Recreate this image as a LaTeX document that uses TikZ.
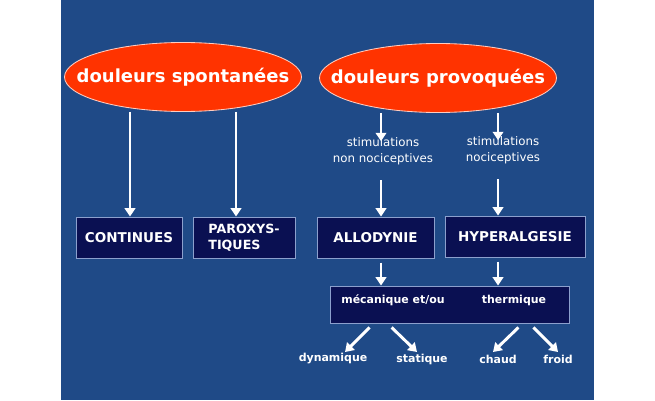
\documentclass[tikz,border=0pt]{standalone}
\usepackage{fontspec}
\setmainfont{DejaVu Sans}
\usepackage{tikz}
\usetikzlibrary{shapes.geometric,arrows.meta,calc}
\definecolor{slide}{RGB}{31,74,135}
\definecolor{blob}{RGB}{255,51,0}
\definecolor{navy}{RGB}{10,16,82}
\definecolor{rim}{RGB}{140,160,205}
\def\pxu{0.025cm}
\tikzset{
  blob/.style={ellipse,draw=white!75!blob,line width=0.6pt,fill=blob,
    minimum width=237*\pxu,minimum height=69*\pxu,inner sep=0pt},
  blobtext/.style={text=white,font=\fontsize{12.8}{15}\selectfont\bfseries,inner sep=0pt},
  box/.style={draw=rim,line width=0.6pt,fill=navy,text=white,
    font=\fontsize{9.6}{11.4}\selectfont\bfseries,minimum height=41*\pxu,align=center,inner sep=0pt},
  stim/.style={text=white,font=\fontsize{8.4}{11.4}\selectfont,align=center,inner sep=0pt},
  leaf/.style={text=white,font=\fontsize{7.8}{9}\selectfont\bfseries,inner sep=0pt},
  arr/.style={draw=white,line width=2.1pt,-{Triangle[length=6pt,width=7.5pt]}}
}

\begin{document}
\begin{tikzpicture}[x=\pxu,y=-\pxu]
\useasboundingbox (0,0) rectangle (655,400);
\fill[slide] (61,0) rectangle (594,400);

\node[blob,label={[blobtext]center:douleurs spontanées}] (spont) at (183,77) {};
\node[blob,label={[blobtext]center:douleurs provoquées}] (provo) at (438,78) {};

\node[stim] (stimA) at (383,151) {stimulations\\non nociceptives};
\node[stim] (stimB) at (503,150) {stimulations\\nociceptives};

\node[box,minimum width=106*\pxu] (cont) at (129,237.5) {CONTINUES};
\node[box,minimum width=102*\pxu,align=left,font=\fontsize{9}{11.4}\selectfont\bfseries] (parox) at (244,237.5) {PAROXYS-\\TIQUES};
\node[box,minimum width=117*\pxu] (allo) at (375.5,237.5) {ALLODYNIE};
\node[box,minimum width=140*\pxu] (hyper) at (515,236.5) {HYPERALGESIE};

\node[box,minimum width=239*\pxu,minimum height=37*\pxu] (meca) at (449.5,304.5) {};
\node[leaf] (mecaT) at (393,300) {mécanique et/ou};
\node[leaf] (therT) at (514,300) {thermique};

\node[leaf] (dyn) at (333,359) {dynamique};
\node[leaf] (stat) at (422,359) {statique};
\node[leaf] (chaud) at (498,359) {chaud};
\node[leaf] (froid) at (558,359) {froid};

% columns of the vertical arrows
\coordinate (colCont) at (130,0);
\coordinate (colParox) at (236,0);
\coordinate (colAllo) at (381,0);
\coordinate (colHyper) at (498,0);

\draw[arr] (spont.south -| colCont) -- (cont.north -| colCont);
\draw[arr] (spont.south -| colParox) -- (parox.north -| colParox);
\draw[arr,shorten >=-3pt] (provo.south -| colAllo) -- (stimA.north -| colAllo);
\draw[arr,shorten >=-3pt] (provo.south -| colHyper) -- (stimB.north -| colHyper);
\draw[arr,shorten <=11pt] (stimA.south -| colAllo) -- (allo.north -| colAllo);
\draw[arr,shorten <=11pt] (stimB.south -| colHyper) -- (hyper.north -| colHyper);
\draw[arr,shorten <=3pt] (allo.south -| colAllo) -- (meca.north -| colAllo);
\draw[arr,shorten <=3pt] (hyper.south -| colHyper) -- (meca.north -| colHyper);

\draw[arr] ($(meca.south west)+(40,4)$) -- ($(dyn.center)+(12,-7)$);
\draw[arr] ($(meca.south west)+(62,4)$) -- ($(stat.center)+(-5,-7)$);
\draw[arr] ($(meca.south east)+(-51,4)$) -- ($(chaud.center)+(-5,-7)$);
\draw[arr] ($(meca.south east)+(-36,4)$) -- ($(froid.center)+(0,-7)$);
\end{tikzpicture}
\end{document}
